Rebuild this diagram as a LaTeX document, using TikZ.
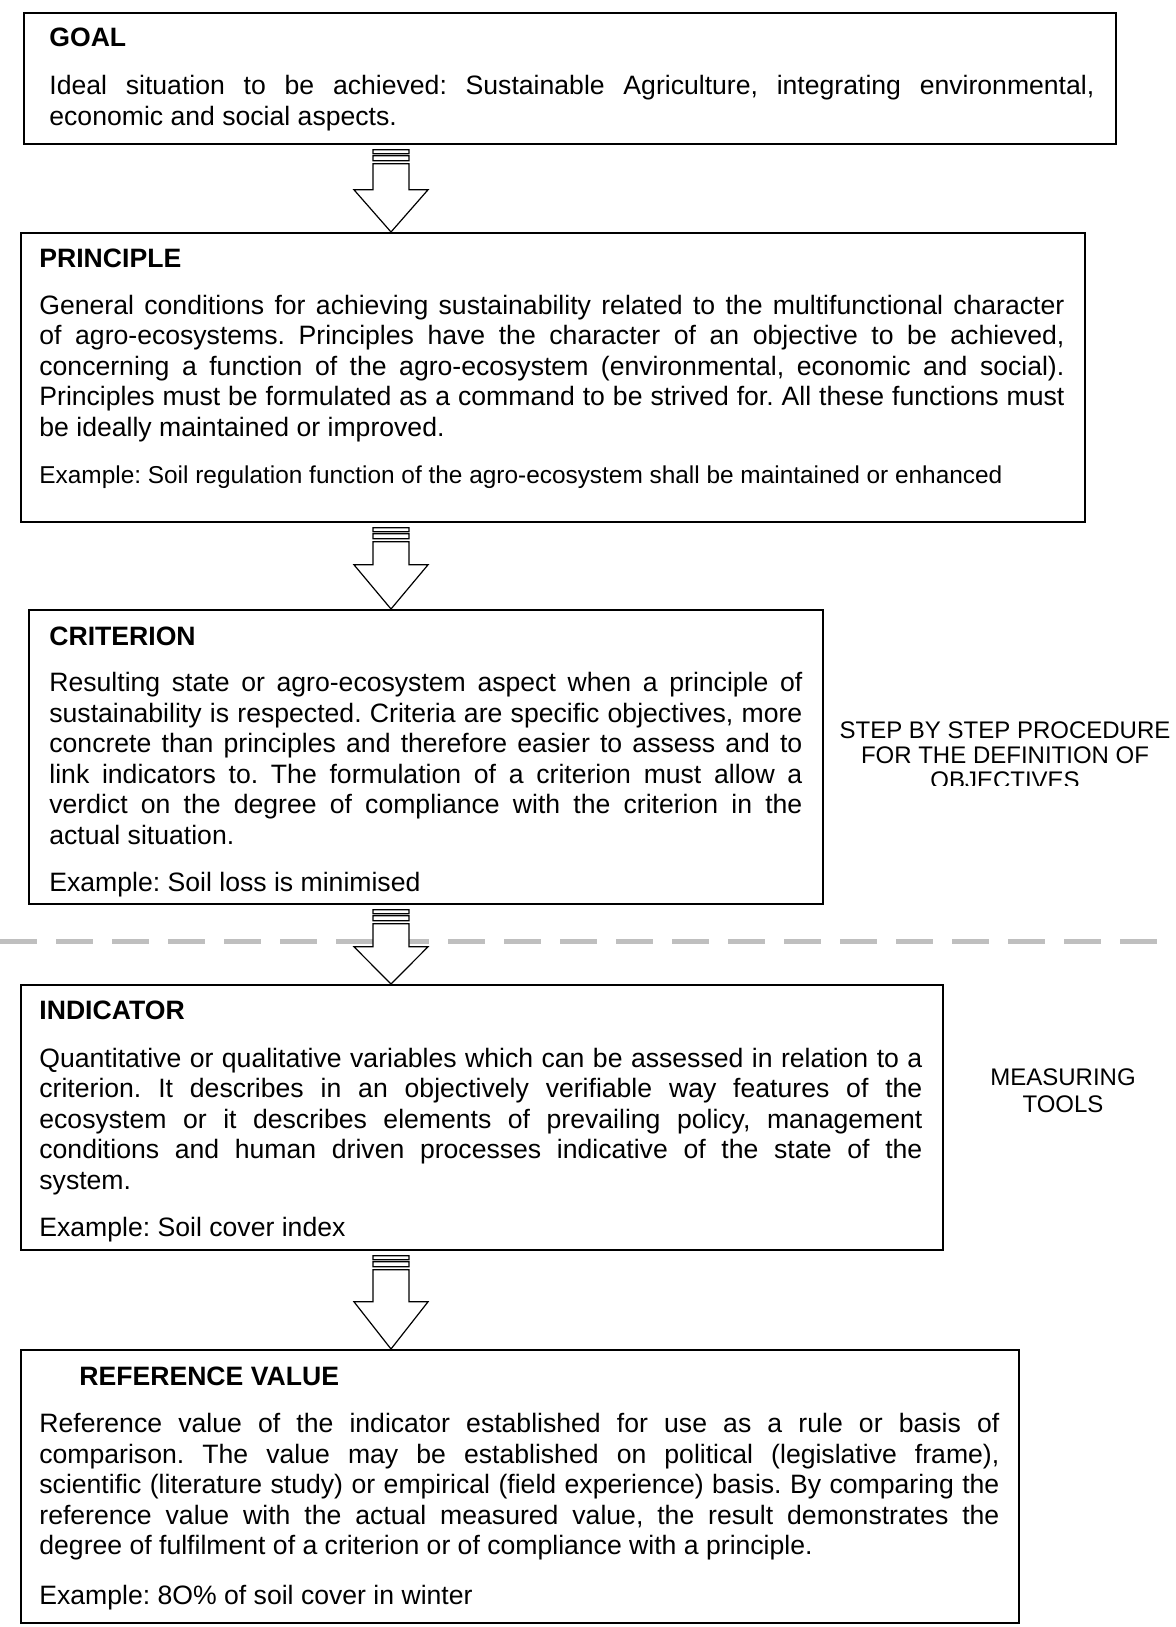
\documentclass[tikz,border=0pt]{standalone}
\usepackage{fontspec}
\setmainfont{Liberation Sans}
\usetikzlibrary{calc}
\frenchspacing
\newcommand{\bodyfont}{\fontsize{13.3pt}{15.25pt}\selectfont\frenchspacing}
\newcommand{\smallfnt}{\fontsize{12.2pt}{14pt}\selectfont\frenchspacing}
\newcommand{\sidefnt}{\fontsize{12pt}{12.5pt}\selectfont}
\newcommand{\JL}[1]{\makebox[\linewidth][s]{#1}}
\newcommand{\holarrow}[3]{%
  \path[arr] let \p1=(#1.south -| ax), \p2=(#2.north -| ax) in
    (\x1-9pt,\y1-2.5pt) rectangle (\x1+9pt,\y1-4.5pt)
    (\x1-9pt,\y1-5.5pt) rectangle (\x1+9pt,\y1-8pt)
    (\x1-9pt,\y1-9.5pt) -- (\x1-9pt,\y1-#3) -- (\x1-18.5pt,\y1-#3) -- (\x2,\y2)
    -- (\x1+18.5pt,\y1-#3) -- (\x1+9pt,\y1-#3) -- (\x1+9pt,\y1-9.5pt) -- cycle;}
\begin{document}
\begin{tikzpicture}[x=0.5pt,y=-0.5pt,
  box/.style={draw=black, line width=0.9pt, anchor=north west, inner sep=0pt, fill=white},
  head/.style={anchor=base west, inner sep=0pt, font=\bodyfont\bfseries},
  body/.style={anchor=base west, inner sep=0pt, font=\bodyfont},
  ex/.style={anchor=base west, inner sep=0pt, font=\smallfnt},
  side/.style={anchor=base, inner sep=0pt, font=\sidefnt},
  arr/.style={draw=black, line width=0.6pt, fill=white},
  sep/.style={draw=black!25, line width=2.5pt, dash pattern=on 18.5pt off 9.5pt}]
\useasboundingbox (0,0) rectangle (1176,1627);
\coordinate (ax) at (391,0);
\coordinate (sepL) at (0,941);
\coordinate (sepR) at (1176,941);
\draw[sep] (sepL) -- (sepR);

% boxes
\node[box, minimum width=546pt, minimum height=65.5pt] (goal) at (23,12) {};
\node[box, minimum width=532pt, minimum height=144.5pt] (principle) at (20,232) {};
\node[box, minimum width=397pt, minimum height=147pt] (criterion) at (28,609) {};
\node[box, minimum width=461pt, minimum height=132.5pt] (indicator) at (20,984) {};
\node[box, minimum width=499pt, minimum height=136.5pt] (reference) at (20,1349) {};

% arrows
\holarrow{goal}{principle}{22.5pt}
\holarrow{principle}{criterion}{21pt}
\holarrow{criterion}{indicator}{21pt}
\holarrow{indicator}{reference}{25.5pt}

% GOAL
\node[head] (goalh) at (49,46.5) {GOAL};
\node[body] (goalt) at (49,95) {\parbox[t]{522.5pt}{%
\JL{Ideal situation to be achieved: Sustainable Agriculture, integrating environmental,}\\
economic and social aspects.}};

% PRINCIPLE
\node[head] (prinh) at (39,267) {PRINCIPLE};
\node[body] (print) at (39,314) {\parbox[t]{512.5pt}{%
\JL{General conditions for achieving sustainability related to the multifunctional character}\\
\JL{of agro-ecosystems. Principles have the character of an objective to be achieved,}\\
\JL{concerning a function of the agro-ecosystem (environmental, economic and social).}\\
\JL{Principles must be formulated as a command to be strived for. All these functions must}\\
be ideally maintained or improved.}};
\node[ex] (prinex) at (39,483) {Example: Soil regulation function of the agro-ecosystem shall be maintained or enhanced};

% CRITERION
\node[head] (crith) at (49,645) {CRITERION};
\node[body] (critt) at (49,691.5) {\parbox[t]{376.5pt}{%
\JL{Resulting state or agro-ecosystem aspect when a principle of}\\
\JL{sustainability is respected. Criteria are specific objectives, more}\\
\JL{concrete than principles and therefore easier to assess and to}\\
\JL{link indicators to. The formulation of a criterion must allow a}\\
\JL{verdict on the degree of compliance with the criterion in the}\\
actual situation.}};
\node[body] (critex) at (49,891.5) {Example: Soil loss is minimised};

% INDICATOR
\node[head] (indh) at (39,1019.5) {INDICATOR};
\node[body] (indt) at (39,1067) {\parbox[t]{441.5pt}{%
\JL{Quantitative or qualitative variables which can be assessed in relation to a}\\
\JL{criterion. It describes in an objectively verifiable way features of the}\\
\JL{ecosystem or it describes elements of prevailing policy, management}\\
\JL{conditions and human driven processes indicative of the state of the}\\
system.}};
\node[body] (index) at (39,1236.5) {Example: Soil cover index};

% REFERENCE VALUE
\node[head] (refh) at (79,1385) {REFERENCE VALUE};
\node[body] (reft) at (39,1432.5) {\parbox[t]{480pt}{%
\JL{Reference value of the indicator established for use as a rule or basis of}\\
\JL{comparison. The value may be established on political (legislative frame),}\\
\JL{scientific (literature study) or empirical (field experience) basis. By comparing the}\\
\JL{reference value with the actual measured value, the result demonstrates the}\\
degree of fulfilment of a criterion or of compliance with a principle.}};
\node[body] (refex) at (39,1604) {Example: 8O\% of soil cover in winter};

% side labels
\node[side] (step1) at (1005,738.5) {STEP BY STEP PROCEDURE};
\node[side] (step2) at (1005,763.5) {FOR THE DEFINITION OF};
\begin{scope}
\clip (830,770) rectangle (1176,785);
\node[side] (step3) at (1005,788.5) {OBJECTIVES};
\end{scope}
\node[side] (meas1) at (1063,1085) {MEASURING};
\node[side] (meas2) at (1063,1112) {TOOLS};
\end{tikzpicture}
\end{document}
